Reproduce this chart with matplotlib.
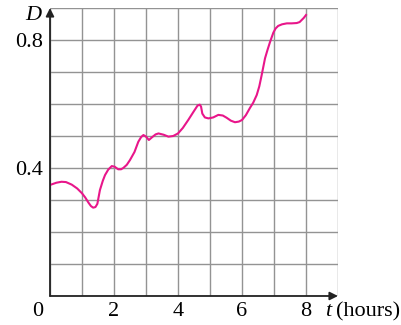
import matplotlib.pyplot as plt

# curve D(t)
t = [0, 0.2, 0.36, 0.5, 0.68, 0.85, 1.0, 1.1, 1.2, 1.28, 1.35, 1.42, 1.48, 1.56, 1.65, 1.72, 1.82,
     1.93, 2.02, 2.13, 2.22, 2.29, 2.4, 2.5, 2.64, 2.76, 2.85, 2.92, 3.0, 3.09, 3.2, 3.3, 3.39,
     3.55, 3.7, 3.85, 4.0, 4.15, 4.32, 4.48, 4.61, 4.68, 4.72, 4.76, 4.84, 4.95, 5.1, 5.26,
     5.4, 5.52, 5.65, 5.78, 5.9, 6.0, 6.12, 6.25, 6.35, 6.46, 6.54, 6.61, 6.67, 6.72, 6.8,
     6.88, 6.98, 7.05, 7.13, 7.25, 7.4, 7.55, 7.71, 7.8, 7.86, 7.93, 8.0]
D = [0.347, 0.354, 0.357, 0.356, 0.348, 0.336, 0.321, 0.308, 0.292, 0.281, 0.276, 0.278, 0.288,
     0.331, 0.36, 0.378, 0.395, 0.406, 0.404, 0.396, 0.396, 0.4, 0.41, 0.425, 0.45, 0.482,
     0.497, 0.503, 0.498, 0.4875, 0.497, 0.505, 0.508, 0.504, 0.498, 0.5, 0.508, 0.525, 0.55,
     0.575, 0.595, 0.598, 0.592, 0.57, 0.558, 0.555, 0.558, 0.566, 0.564, 0.557, 0.548, 0.543,
     0.545, 0.55, 0.565, 0.588, 0.604, 0.628, 0.655, 0.688, 0.718, 0.743, 0.77, 0.795, 0.823,
     0.836, 0.844, 0.849, 0.852, 0.852, 0.853, 0.856, 0.862, 0.869, 0.878]

x_grid = list(range(10))
y_grid = [i / 10 for i in range(10)]
x_labels = ['', '', '2', '', '4', '', '6', '', '8', '']
y_labels = ['', '', '', '', '0.4', '', '', '', '0.8', '']

serif = 'Liberation Serif'
fs = 16

fig = plt.figure(figsize=(4.02, 3.25), dpi=100)
ax = fig.add_axes([50 / 402, 29 / 325, 288 / 402, 288 / 325])

ax.set_xlim(0, 9)
ax.set_ylim(0, 0.9)
ax.set_xticks(x_grid)
ax.set_xticklabels(x_labels, fontfamily=serif, fontsize=fs)
ax.set_yticks(y_grid)
ax.set_yticklabels(y_labels, fontfamily=serif, fontsize=fs)
ax.tick_params(axis='y', length=0, pad=5)
ax.tick_params(axis='x', length=0, pad=4)
ax.grid(color='#939393', linewidth=1.0)
for s in ax.spines.values():
    s.set_visible(False)

ax.plot(t, D, color='#e8168a', linewidth=1.5, zorder=3)

# axes with arrow heads
arrow = dict(arrowstyle='-|>', color='#222222', lw=1.3, mutation_scale=12,
             shrinkA=0, shrinkB=0)
ax.annotate('', xy=(9, 0), xytext=(0, 0), arrowprops=arrow, annotation_clip=False, zorder=4)
ax.annotate('', xy=(0, 0.9), xytext=(0, 0), arrowprops=arrow, annotation_clip=False, zorder=4)

ax.text(-0.2, -0.05, '0', fontfamily=serif, fontsize=fs, ha='right', va='center')
ax.text(-0.53, 0.875, 'D', fontfamily=serif, fontsize=fs, style='italic', ha='center', va='center')
ax.text(8.6, -0.05, 't', fontfamily=serif, fontsize=fs, style='italic', ha='left', va='center')
ax.text(8.95, -0.05, '(hours)', fontfamily=serif, fontsize=fs, ha='left', va='center')

fig.savefig('out.png', dpi=100)
